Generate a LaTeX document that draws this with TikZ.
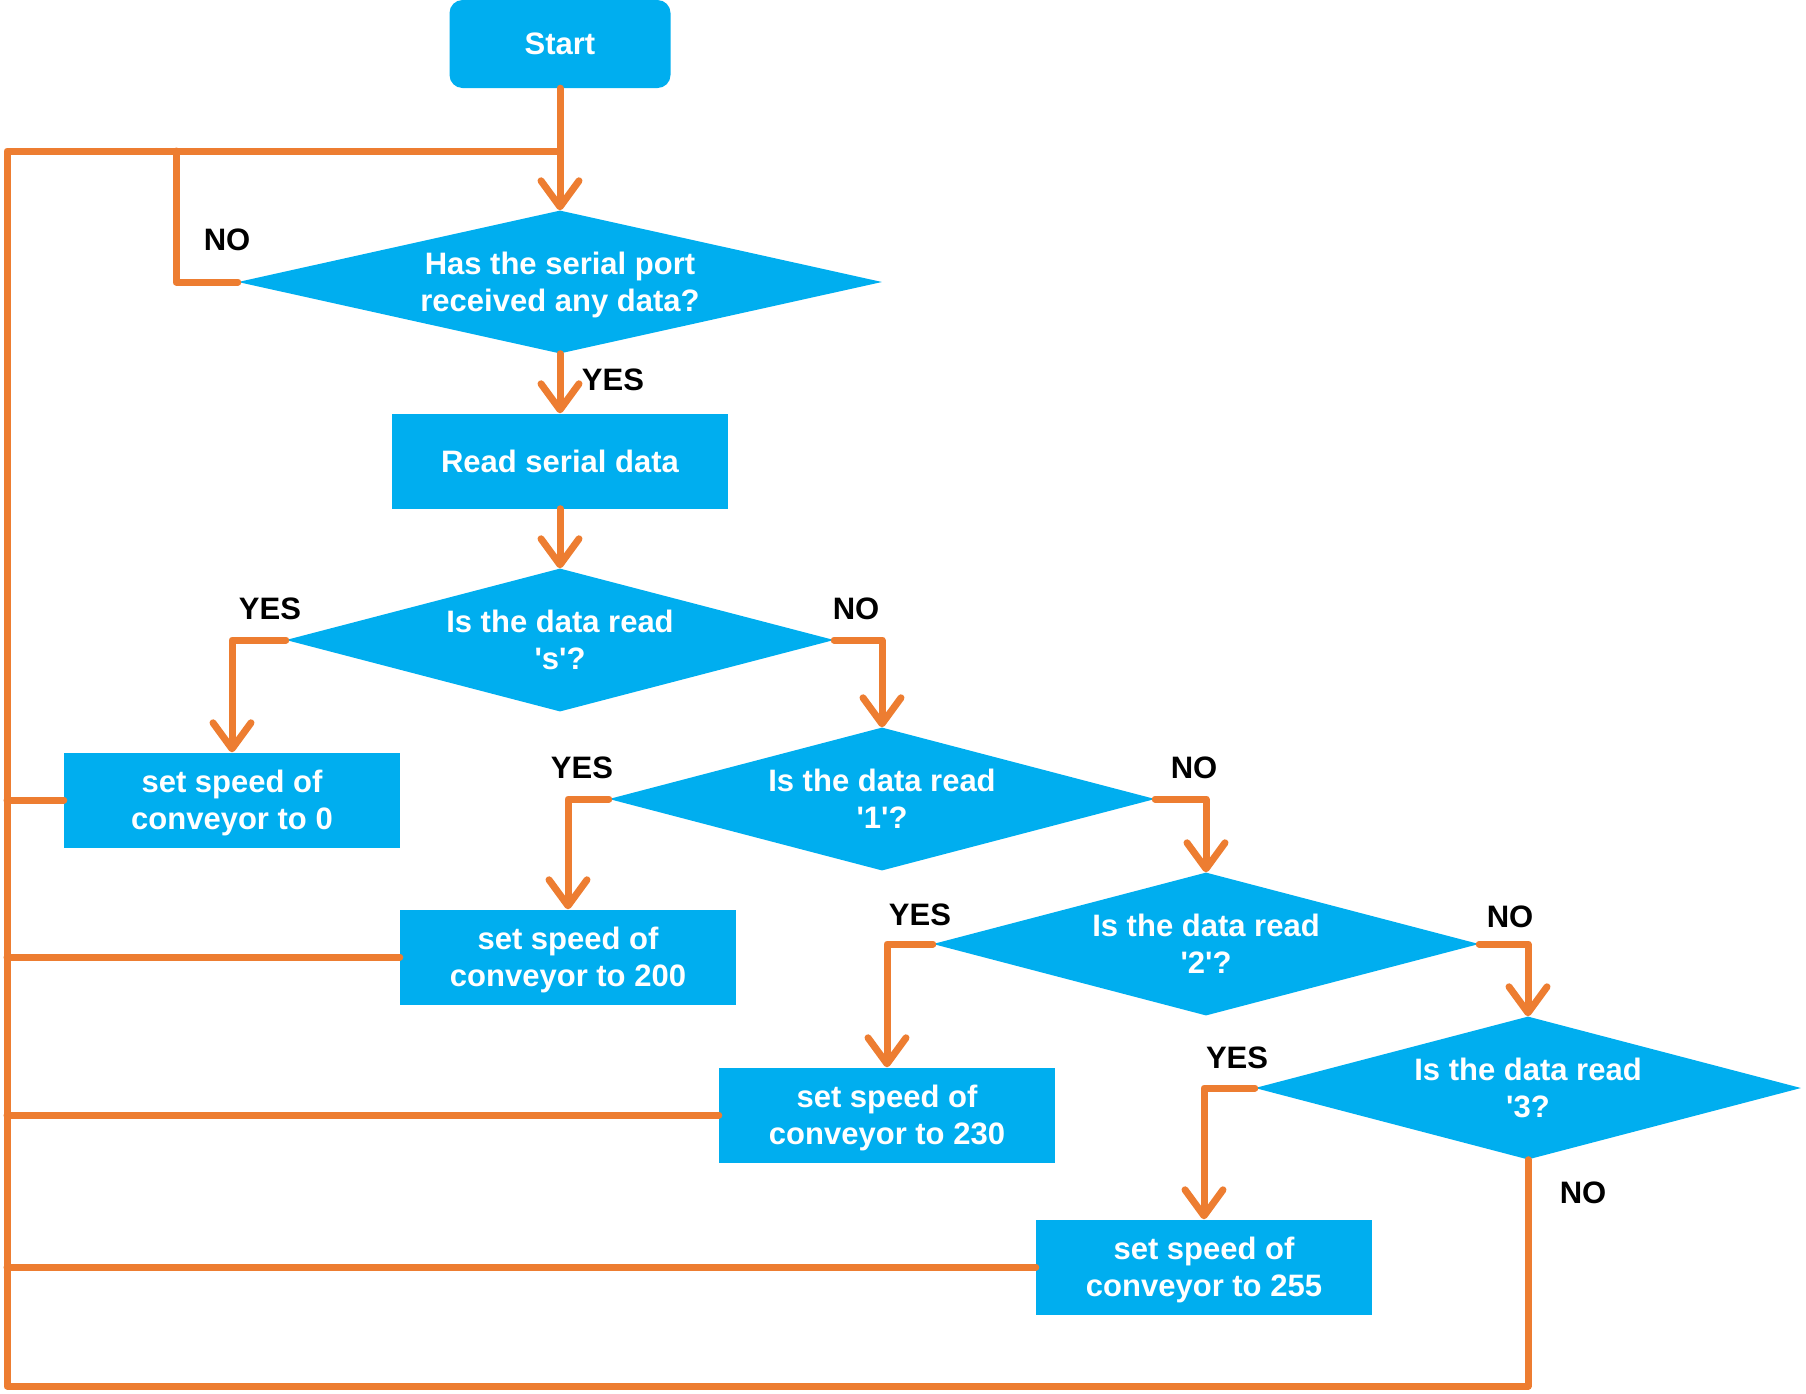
\documentclass[tikz,border=0pt]{standalone}
\usepackage{fontspec}
\setmainfont{Liberation Sans}[Ligatures=TeXOff]
\usetikzlibrary{shapes.geometric,arrows.meta}
\definecolor{fcblue}{HTML}{00AEEF}
\definecolor{fcorange}{HTML}{ED7D31}
\begin{document}
\begin{tikzpicture}[x=1pt,y=-1pt,
 every node/.style={font=\fontsize{31}{37}\selectfont\bfseries},
 startbox/.style={fill=fcblue,text=white,rounded corners=13pt,minimum width=221pt,minimum height=88pt,inner sep=0pt},
 procbox/.style={fill=fcblue,text=white,align=center,minimum width=336pt,minimum height=95pt,inner sep=0pt,text depth=0pt},
 decbox/.style={diamond,fill=fcblue,text=white,align=center,inner sep=0pt,aspect=4.5,text depth=0pt},
 flow/.style={draw=fcorange,line width=7pt,line join=round,line cap=round},
 arr/.style={flow,-{Straight Barb[round,length=26pt,width=38pt]}},
 lbl/.style={text=black,inner sep=0pt}]
\useasboundingbox (0,0) rectangle (1806,1393);

\node[startbox] (start) at (560,44) {Start};
\node[decbox,minimum width=644pt,minimum height=143pt] (d1) at (560,282) {Has the serial port\\received any data?};
\node[procbox] (read) at (560,461) {Read serial data};
\node[decbox,minimum width=548pt,minimum height=143pt] (d2) at (560,640) {Is the data read\\'s'?};
\node[procbox] (b0) at (232,800) {set speed of\\conveyor to 0};
\node[decbox,minimum width=546pt,minimum height=143pt] (d3) at (882,799) {Is the data read\\'1'?};
\node[procbox] (b200) at (568,957) {set speed of\\conveyor to 200};
\node[decbox,minimum width=546pt,minimum height=143pt] (d4) at (1206,944) {Is the data read\\'2'?};
\node[procbox] (b230) at (887,1115) {set speed of\\conveyor to 230};
\node[decbox,minimum width=546pt,minimum height=143pt] (d5) at (1528,1088) {Is the data read\\'3?};
\node[procbox] (b255) at (1204,1267) {set speed of\\conveyor to 255};

\coordinate (loopTL) at (7,151);
\coordinate (loopBL) at (7,1386);
\coordinate (merge) at (560,151);
\coordinate (noTop) at (176,151);

% connectors
\draw[arr] (start.south) -- (d1.north);
\draw[flow] (d5.south) |- (loopBL) -- (loopTL) -- (merge);
\draw[flow] (d1.west) -| (noTop);
\draw[arr] (d1.south) -- (read.north);
\draw[arr] (read.south) -- (d2.north);
\draw[arr] (d2.west) -| (b0.north);
\draw[arr] (d2.east) -| (d3.north);
\draw[arr] (d3.west) -| (b200.north);
\draw[arr] (d3.east) -| (d4.north);
\draw[arr] (d4.west) -| (b230.north);
\draw[arr] (d4.east) -| (d5.north);
\draw[arr] (d5.west) -| (b255.north);
\draw[flow] (b0.west) -- (b0.west -| loopTL);
\draw[flow] (b200.west) -- (b200.west -| loopTL);
\draw[flow] (b230.west) -- (b230.west -| loopTL);
\draw[flow] (b255.west) -- (b255.west -| loopTL);

% labels
\node[lbl] (l1) at (227,240) {NO};
\node[lbl] (l2) at (613,380) {YES};
\node[lbl] (l3) at (270,609) {YES};
\node[lbl] (l4) at (856,609) {NO};
\node[lbl] (l5) at (582,768) {YES};
\node[lbl] (l6) at (1194,768) {NO};
\node[lbl] (l7) at (920,915) {YES};
\node[lbl] (l8) at (1510,917) {NO};
\node[lbl] (l9) at (1237,1058) {YES};
\node[lbl] (l10) at (1583,1193) {NO};
\end{tikzpicture}
\end{document}
